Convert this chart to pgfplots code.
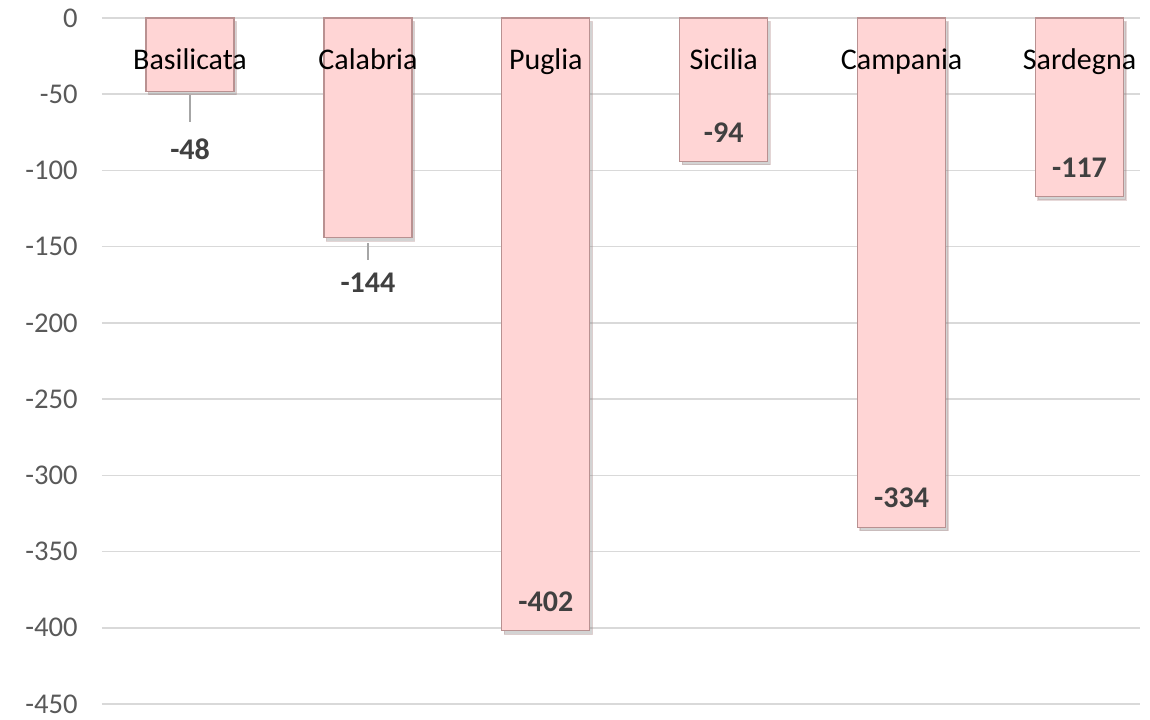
\documentclass[border=0pt]{standalone}
\usepackage{fontspec}
\setmainfont{Carlito}
\usepackage{pgfplots}
\usepackage{pgfplotstable}
\pgfplotsset{compat=1.18}
\usetikzlibrary{shadows}

\definecolor{barfill}{RGB}{255,213,213}
\definecolor{baredge}{RGB}{185,145,145}
\definecolor{gridc}{RGB}{217,217,217}
\definecolor{tickc}{RGB}{89,89,89}
\definecolor{valc}{RGB}{64,64,64}

% regione, saldo, spostamento etichetta (pt)
\pgfplotstableread{
x y dy top name
0 -48 -29 0 Basilicata
1 -144 -22.75 0 Calabria
2 -402 14.5 0 Puglia
3 -94 14.5 0 Sicilia
4 -334 14.5 0 Campania
5 -117 14.5 0 Sardegna
}\saldo

\begin{document}
\begin{tikzpicture}
\begin{axis}[
    name=ax,
    scale only axis,
    width=519pt, height=343pt,
    xmin=-0.495, xmax=5.34,
    ymin=-450, ymax=0,
    enlargelimits=false,
    axis line style={draw=none},
    tick style={draw=none},
    xtick=\empty,
    ytick={-450,-400,...,0},
    ymajorgrids=true,
    grid style={gridc, line width=0.75pt},
    yticklabel style={font=\fontsize{14.3}{16}\selectfont, color=tickc, xshift=-11pt, inner sep=1pt},
    /pgf/number format/assume math mode=true,
    clip=false,
]
\addplot[ybar, bar width=0.495, fill=barfill, draw=baredge, line width=0.6pt,
    drop shadow={shadow xshift=1.2pt, shadow yshift=-1.8pt, opacity=0.35}]
    table[x=x, y=y] {\saldo};

% linee guida per le etichette esterne
\addplot[gray!70, line width=0.75pt, no marks] coordinates {(0,-50.7) (0,-68.3)};
\addplot[gray!70, line width=0.75pt, no marks] coordinates {(1,-147.6) (1,-158.6)};

% valori
\addplot[draw=none, no marks, nodes near coords,
    visualization depends on={\thisrow{dy} \as \dy},
    every node near coord/.style={anchor=center, yshift=\dy pt,
        font=\bfseries\fontsize{15}{17}\selectfont, color=valc}]
    table[x=x, y=y] {\saldo};

% nomi delle regioni
\addplot[draw=none, no marks, point meta=explicit symbolic, nodes near coords,
    every node near coord/.style={anchor=base, yshift=-26pt,
        font=\fontsize{15}{17}\selectfont, color=black}]
    table[x=x, y=top, meta=name] {\saldo};
\end{axis}
\pgfresetboundingbox
\path ([xshift=-51pt,yshift=-7.5pt]ax.south west) rectangle ([xshift=5pt,yshift=9pt]ax.north east);
\end{tikzpicture}
\end{document}
